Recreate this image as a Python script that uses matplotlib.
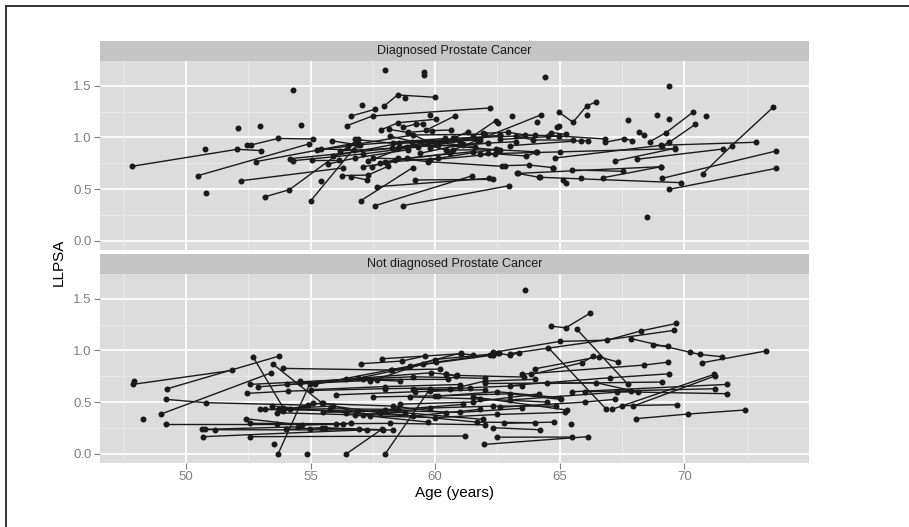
import matplotlib
matplotlib.use('Agg')
import matplotlib.pyplot as plt
from matplotlib.lines import Line2D
from matplotlib.ticker import MultipleLocator

plt.rcParams['font.family'] = ['Liberation Sans', 'DejaVu Sans']

# ---------------- data (one inner list per subject) ----------------
panel_titles = ["Diagnosed Prostate Cancer", "Not diagnosed Prostate Cancer"]
x_label = "Age (years)"
y_label = "LLPSA"
x_ticks = [50, 55, 60, 65, 70]
y_ticks = [0.0, 0.5, 1.0, 1.5]

dx_age = [
    [47.82, 52.06, 53.03], [50.75], [50.80], [52.09], [52.97], [54.28], [54.63],
    [52.43, 52.61, 53.70, 55.10], [50.48, 54.93], [52.79, 56.90],
    [52.19, 56.31], [53.18, 54.15, 56.91], [55.00, 56.91], [55.40],
    [54.17, 58.50, 62.60], [54.30, 57.10, 61.00], [55.04, 56.15],
    [55.27, 57.00, 60.40], [55.40, 56.75], [55.87, 56.92],
    [55.71, 56.78, 58.90], [56.26, 57.31, 58.10], [56.46, 57.49, 62.19],
    [56.64, 57.58], [57.06], [57.94, 58.49, 59.99], [58.78], [57.97],
    [59.55], [59.55], [59.79], [59.65, 60.79], [57.81, 58.52, 60.05],
    [58.72, 59.22, 59.52], [58.92, 59.89, 60.62], [57.02, 59.09],
    [57.58, 61.46], [58.69, 62.97], [57.67, 62.17], [59.18, 62.30],
    [56.64, 57.27], [57.45, 57.78, 58.38, 60.59], [57.11, 58.05, 58.85, 61.50],
    [58.52, 59.72, 62.70], [59.05, 60.39, 61.66], [59.32, 60.12, 62.53],
    [59.38, 61.10, 63.24], [59.79, 60.72, 61.32], [61.52, 62.43], [62.53],
    [63.10], [60.72, 64.24], [64.10], [61.93, 62.93, 63.60, 64.96],
    [63.24, 63.93, 65.51], [62.13, 63.66, 64.06], [63.30, 64.17],
    [62.79, 63.77, 64.73], [64.95, 65.53, 66.09, 66.47], [66.09], [64.42],
    [69.38], [67.75], [68.90], [69.38], [70.87], [68.61, 69.27, 70.34],
    [69.11, 69.39, 70.44], [70.74, 71.90, 73.56], [67.21, 69.63],
    [68.08, 71.55], [64.80, 69.08, 72.86], [69.11, 73.69], [69.39, 73.69],
    [64.20, 69.87], [65.48, 67.54], [66.74, 69.07], [65.86], [65.11, 65.24],
    [64.72], [68.49], [66.82, 67.57, 67.91], [68.18, 68.37],
    [62.60, 64.96, 66.82], [63.00, 65.87, 66.14], [56.80, 58.32, 60.45, 62.59],
    [56.20, 58.25, 60.79, 64.00], [55.90, 58.56, 61.79],
    [57.30, 58.85, 61.12, 62.13], [58.13, 58.92, 59.72, 61.59],
    [57.50, 59.79, 62.39], [58.00, 60.12, 62.46], [58.18, 60.45, 62.59, 64.10],
    [56.50, 59.12, 62.00], [64.53, 64.66, 65.24], [64.89, 64.96],
    [61.80, 65.00, 69.61], [63.33, 69.08],
]
dx_llpsa = [
    [0.72, 0.885, 0.872], [0.89], [0.46], [1.095], [1.11], [1.457], [1.118],
    [0.927, 0.927, 0.99, 0.985], [0.63, 0.937], [0.765, 0.95],
    [0.58, 0.705], [0.426, 0.494, 0.982], [0.385, 0.943], [0.58],
    [0.794, 0.90, 1.02], [0.775, 0.84, 0.96], [0.785, 0.785],
    [0.879, 0.93, 0.99], [0.888, 0.879], [0.966, 0.927],
    [0.743, 0.80, 0.88], [0.63, 0.636, 0.72], [1.114, 1.208, 1.285],
    [1.208, 1.272], [1.315], [1.302, 1.411, 1.389], [1.379], [1.657],
    [1.638], [1.60], [1.215], [1.072, 1.208], [1.072, 1.143, 1.176],
    [1.098, 1.13, 1.13], [1.05, 1.066, 1.072], [0.388, 0.707],
    [0.339, 0.627], [0.339, 0.533], [0.523, 0.604], [0.588, 0.594],
    [0.62, 0.588], [0.717, 0.749, 0.782, 0.846], [0.717, 0.749, 0.798, 0.862],
    [0.798, 0.765, 0.72], [0.959, 0.975, 0.975], [0.911, 0.927, 0.879],
    [0.846, 0.933, 0.959], [0.895, 0.992, 1.056], [1.014, 1.163], [1.137],
    [1.211], [0.879, 1.218], [1.147], [1.04, 1.05, 1.024, 1.014],
    [1.014, 0.975, 0.975], [0.846, 0.82, 0.856], [0.652, 0.614],
    [0.727, 0.733, 0.707], [1.247, 1.147, 1.308, 1.344], [1.218], [1.586],
    [1.502], [1.173], [1.218], [1.179], [1.211], [0.959, 1.047, 1.244],
    [0.921, 0.953, 1.127], [0.649, 0.921, 1.292], [0.772, 0.895],
    [0.788, 0.888], [0.80, 0.924, 0.953], [0.604, 0.869], [0.497, 0.701],
    [0.614, 0.562], [0.685, 0.672], [0.61, 0.717], [0.604], [0.585, 0.556],
    [0.704], [0.229], [0.953, 0.988, 0.969], [1.056, 1.021],
    [0.98, 1.014, 0.985], [0.92, 0.969, 0.966], [0.98, 0.943, 0.975, 1.02],
    [0.87, 0.895, 0.992, 1.02], [0.82, 0.943, 0.975],
    [0.77, 0.911, 0.927, 0.943], [1.079, 1.047, 0.959, 0.911],
    [0.80, 0.782, 0.84], [0.76, 0.798, 0.888], [1.014, 0.879, 0.879, 0.86],
    [0.92, 1.024, 1.03], [1.014, 1.047, 1.03], [1.105, 1.108],
    [0.84, 0.86, 0.891], [0.652, 0.717],
]

nd_age = [
    [47.86, 51.83], [47.91], [49.25, 53.73], [48.26], [49.00, 53.43],
    [49.20, 50.79, 54.90], [49.20, 53.64, 56.30], [50.63, 54.50],
    [50.76, 51.16, 58.30], [50.70, 57.25], [52.70, 53.90],
    [53.90, 58.25, 60.20], [53.50, 55.44], [53.70, 54.97], [54.84],
    [56.44, 57.85], [58.00, 59.78], [53.53], [57.02, 58.65, 59.58],
    [57.85, 61.05, 61.52], [58.22, 60.05, 62.20],
    [52.57, 56.44, 59.12, 62.00], [52.90, 57.11, 60.50],
    [52.43, 54.10, 58.00, 61.00], [54.06, 57.65, 58.58],
    [54.57, 59.85, 60.45, 60.83], [53.44, 56.44, 59.12, 61.79],
    [53.73, 55.78, 58.52, 61.12], [53.64, 57.11, 59.79, 62.33, 64.84],
    [53.90, 55.11, 58.32, 60.45], [54.17, 55.48, 57.38, 59.72],
    [52.97, 56.91, 58.78, 61.93], [53.17, 55.91, 57.78, 61.66, 64.00],
    [52.57, 56.04, 58.18, 62.00], [52.39, 54.64, 56.64],
    [54.00, 55.44, 57.89], [54.97, 55.57, 56.95], [52.57, 61.19],
    [54.57, 55.17, 58.98, 61.03], [56.90, 59.52, 62.33],
    [57.40, 59.99, 62.53], [59.12, 60.59, 61.99, 64.00],
    [59.79, 61.39, 63.50], [60.12, 62.50, 65.00], [60.45, 60.86, 63.57],
    [57.50, 60.00, 63.00, 65.04], [58.60, 61.50, 64.17],
    [56.00, 59.20, 62.00], [55.00, 58.00, 61.00], [61.50, 65.27],
    [62.60, 66.00, 67.20], [63.00, 67.87], [62.00, 66.47, 68.14],
    [64.63, 65.24, 66.20], [65.69, 67.74], [64.54, 66.87],
    [62.30, 65.00, 66.91, 68.27, 69.68], [63.00, 69.58],
    [67.87, 70.21, 70.61, 71.52], [68.74, 69.34], [70.72, 73.26],
    [68.05, 70.14, 72.42], [67.94, 71.22], [67.10, 71.19], [67.50, 69.72],
    [63.50, 68.37, 69.36], [63.00, 67.00, 69.40], [64.50, 69.10],
    [65.50, 71.71], [66.00, 71.24], [61.96, 66.13], [62.50, 65.47],
    [65.44], [62.30, 64.20], [62.77, 64.76], [63.60],
    [62.32, 62.57, 63.02, 63.37], [64.02, 66.56, 67.34],
    [63.86, 65.90, 66.34], [56.80, 60.00, 62.50, 65.20],
    [55.50, 58.00, 61.00, 63.50], [59.00, 61.80, 64.50], [67.30, 71.71],
]
nd_llpsa = [
    [0.671, 0.806], [0.703], [0.629, 0.945], [0.339], [0.384, 0.784],
    [0.526, 0.494, 0.47], [0.29, 0.29, 0.29], [0.235, 0.26],
    [0.235, 0.232, 0.23], [0.165, 0.232], [0.935, 0.445],
    [0.826, 0.81, 0.82], [0.865, 0.494], [0.0, 0.677], [0.0],
    [0.0, 0.235], [0.0, 0.623], [0.09], [0.871, 0.897, 0.945],
    [0.919, 0.968, 0.955], [0.81, 0.887, 0.96],
    [0.671, 0.719, 0.745, 0.73], [0.648, 0.719, 0.72],
    [0.584, 0.606, 0.63, 0.64], [0.671, 0.713, 0.703],
    [0.687, 0.784, 0.768, 0.752], [0.461, 0.397, 0.365, 0.429],
    [0.429, 0.435, 0.429, 0.477], [0.397, 0.374, 0.442, 0.461, 0.461],
    [0.413, 0.487, 0.461, 0.397], [0.429, 0.494, 0.365, 0.306],
    [0.429, 0.413, 0.397, 0.332], [0.429, 0.461, 0.397, 0.306, 0.30],
    [0.294, 0.29, 0.294, 0.28], [0.339, 0.277, 0.294],
    [0.235, 0.252, 0.232], [0.235, 0.245, 0.235], [0.165, 0.171],
    [0.70, 0.671, 0.848, 0.975], [0.73, 0.864, 0.955],
    [0.70, 0.912, 0.971], [0.623, 0.623, 0.703, 0.72],
    [0.606, 0.639, 0.66], [0.558, 0.60, 0.542], [0.768, 0.758, 0.742],
    [0.55, 0.56, 0.58, 0.526], [0.48, 0.50, 0.58],
    [0.57, 0.60, 0.62], [0.62, 0.65, 0.67], [0.55, 0.423],
    [0.45, 0.50, 0.526], [0.52, 0.606], [0.68, 0.687, 0.597],
    [1.235, 1.219, 1.358], [1.203, 0.671], [1.026, 0.429],
    [0.98, 1.087, 1.10, 1.19, 1.261], [0.97, 1.194],
    [1.113, 0.984, 0.961, 0.939], [1.048, 1.042], [0.881, 0.994],
    [0.339, 0.384, 0.423], [0.461, 0.752], [0.43, 0.768], [0.465, 0.474],
    [0.77, 0.858, 0.887], [0.66, 0.735, 0.774], [0.68, 0.694],
    [0.60, 0.671], [0.60, 0.629], [0.09, 0.165], [0.16, 0.161],
    [0.29], [0.252, 0.232], [0.294, 0.306], [1.584],
    [0.952, 0.971, 0.952, 0.977], [0.823, 0.939, 0.887],
    [0.768, 0.881, 0.945], [0.37, 0.35, 0.38, 0.40],
    [0.40, 0.42, 0.40, 0.44], [0.55, 0.53, 0.50], [0.60, 0.581],
]

# ---------------- layout ----------------
W, H = 909, 527
fig = plt.figure(figsize=(W / 100, H / 100), dpi=100)
fig.patch.set_facecolor('white')

XLIM = (46.55, 75.0)
YLIM = (-0.09, 1.74)
PANEL_BG = '#DCDCDC'
STRIP_BG = '#C4C4C4'
TICK_COL = '#7F7F7F'
PL, PR = 100, 809


def fr(x0, y0, x1, y1):
    return [x0 / W, 1 - y1 / H, (x1 - x0) / W, (y1 - y0) / H]


def draw_panel(strip_top, top, bottom, title, ages, vals, show_x):
    sax = fig.add_axes(fr(PL, strip_top, PR, top))
    sax.set_facecolor(STRIP_BG)
    sax.set_xticks([]); sax.set_yticks([])
    for s in sax.spines.values():
        s.set_visible(False)
    sax.text(0.5, 0.5, title, ha='center', va='center', fontsize=9,
             color='#1A1A1A', transform=sax.transAxes)

    ax = fig.add_axes(fr(PL, top, PR, bottom))
    ax.set_facecolor(PANEL_BG)
    for s in ax.spines.values():
        s.set_visible(False)
    ax.set_xlim(*XLIM)
    ax.set_ylim(*YLIM)
    ax.set_xticks(x_ticks)
    ax.set_yticks(y_ticks)
    ax.xaxis.set_minor_locator(MultipleLocator(2.5))
    ax.yaxis.set_minor_locator(MultipleLocator(0.25))
    ax.set_axisbelow(True)
    ax.grid(which='major', color='white', lw=1.2)
    ax.grid(which='minor', color='#EDEDED', lw=0.5)
    ax.tick_params(which='minor', length=0)
    ax.tick_params(which='major', length=4, width=0.8, color=TICK_COL,
                   labelcolor=TICK_COL, labelsize=9.5, pad=2)
    ax.set_yticklabels([f"{v:.1f}" for v in y_ticks])
    if show_x:
        ax.set_xticklabels([str(t) for t in x_ticks])
    else:
        ax.tick_params(axis='x', which='both', length=0, labelbottom=False)
    for a, v in zip(ages, vals):
        ax.plot(a, v, '-', color='#1A1A1A', lw=1.0, zorder=3)
        ax.plot(a, v, 'o', color='#1A1A1A', ms=4.3, mew=0, zorder=4)
    return ax


draw_panel(41, 61, 250, panel_titles[0], dx_age, dx_llpsa, False)
draw_panel(254, 274, 463, panel_titles[1], nd_age, nd_llpsa, True)

fig.text(413.5 / W + 0.0455, 1 - 493 / H, x_label, ha='center', va='center',
         fontsize=11, color='black')
fig.text(59 / W, 1 - 262 / H, y_label, ha='center', va='center',
         rotation=90, fontsize=11, color='black')

# outer frame (left and top edges)
fig.add_artist(Line2D([5.5 / W, 5.5 / W], [0, 1 - 5.5 / H], color='#333333', lw=1.4))
fig.add_artist(Line2D([5.5 / W, 1], [1 - 5.5 / H, 1 - 5.5 / H], color='#333333', lw=1.4))

fig.savefig('out.png', dpi=100, facecolor='white')
